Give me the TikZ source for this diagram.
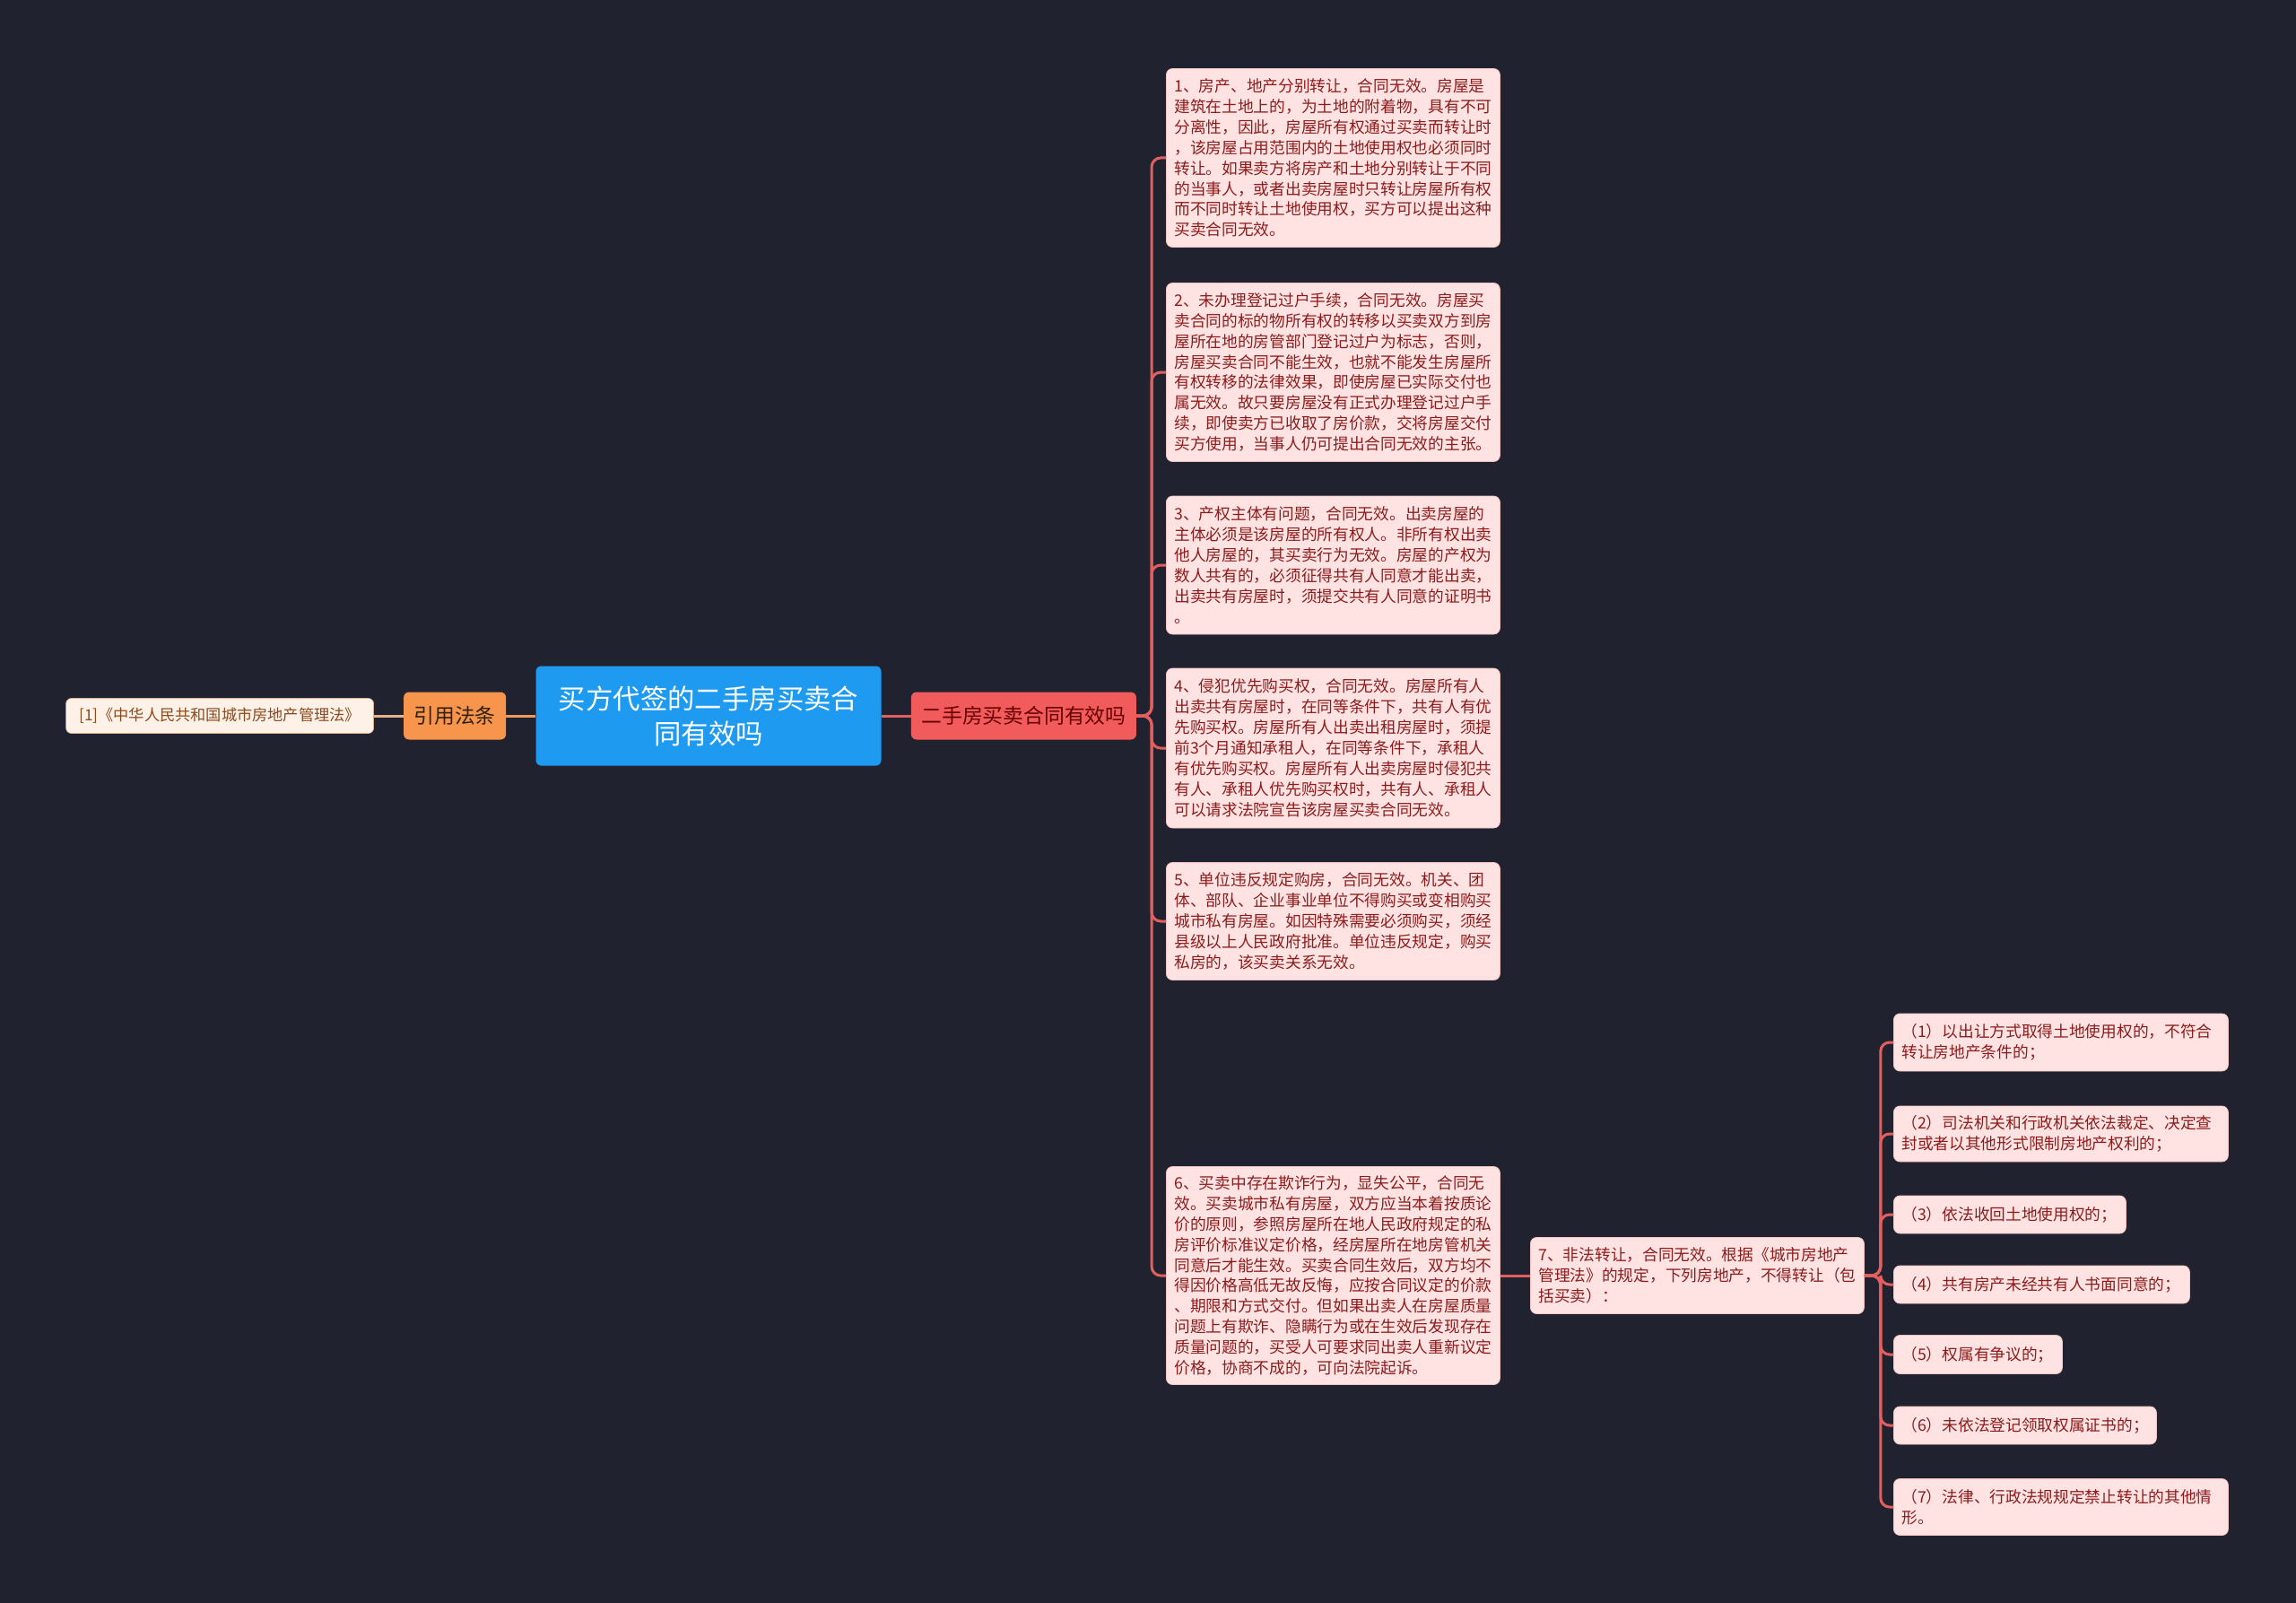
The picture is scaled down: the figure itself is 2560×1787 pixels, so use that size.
\documentclass[tikz,border=0pt]{standalone}
\usepackage{fontspec}
\setmainfont{Noto Sans CJK SC}
\usepackage{xcolor}
\usepackage{tikz}
\usetikzlibrary{positioning}

\definecolor{bgdark}{HTML}{20232F}
\definecolor{rootblue}{HTML}{1E9BF0}
\definecolor{tagorange}{HTML}{F8954D}
\definecolor{tagred}{HTML}{F25B5B}
\definecolor{lawfill}{HTML}{FEF2E8}
\definecolor{lawtext}{HTML}{8B4A1C}
\definecolor{leaffill}{HTML}{FFE3E3}
\definecolor{leafline}{HTML}{F4C4C4}
\definecolor{leaftext}{HTML}{8C1C1C}
\definecolor{redlink}{HTML}{E35F5F}
\definecolor{orangelink}{HTML}{EE9A5C}
\definecolor{tanlink}{HTML}{E3B48A}

\begin{document}
\begin{tikzpicture}[
    x=1pt, y=-1pt,
    topic/.style={rectangle, fill=rootblue, text=white, rounded corners=6pt, minimum width=385pt, minimum height=111pt, align=center, font=\fontsize{30.4pt}{39pt}\selectfont},
    tagbox/.style={rectangle, rounded corners=6pt, minimum height=53pt, inner xsep=4pt, font=\fontsize{22.8pt}{28pt}\selectfont},
    lawbox/.style={rectangle, fill=lawfill, draw=tanlink, line width=0.6pt, text=lawtext, rounded corners=6pt, minimum width=343pt, minimum height=39pt, font=\fontsize{17.2pt}{22pt}\selectfont},
    leaf/.style={rectangle, fill=leaffill, draw=leafline, line width=0.8pt, text=leaftext, rounded corners=7pt, align=left, inner xsep=9pt, inner ysep=3pt, anchor=west, font=\fontsize{17.7pt}{22.9pt}\selectfont},
    link/.style={line width=3pt, rounded corners=10pt}
]

% Background
\fill[bgdark] (0,0) rectangle (2560,1787);
\useasboundingbox (0,0) rectangle (2560,1787);

% Central topic
\node[topic] (root) at (790,798) {买方代签的二手房买卖合\\同有效吗};

% Left side
\node[tagbox, fill=tagorange, text=black!75!brown, minimum width=114pt, left=33pt of root] (cite) {引用法条};
\node[lawbox, left=33pt of cite] (law) {[1]《中华人民共和国城市房地产管理法》};

% Right side
\node[tagbox, fill=tagred, text=black!60!red, minimum width=251pt, right=33pt of root] (valid) {二手房买卖合同有效吗};

% Cases
\node[leaf, text width=354pt, minimum height=199pt] (case1) at (1300,176) {1、房产、地产分别转让，合同无效。房屋是\\建筑在土地上的，为土地的附着物，具有不可\\分离性，因此，房屋所有权通过买卖而转让时\\，该房屋占用范围内的土地使用权也必须同时\\转让。如果卖方将房产和土地分别转让于不同\\的当事人，或者出卖房屋时只转让房屋所有权\\而不同时转让土地使用权，买方可以提出这种\\买卖合同无效。};

\node[leaf, text width=354pt, minimum height=199pt] (case2) at (1300,415) {2、未办理登记过户手续，合同无效。房屋买\\卖合同的标的物所有权的转移以买卖双方到房\\屋所在地的房管部门登记过户为标志，否则，\\房屋买卖合同不能生效，也就不能发生房屋所\\有权转移的法律效果，即使房屋已实际交付也\\属无效。故只要房屋没有正式办理登记过户手\\续，即使卖方已收取了房价款，交将房屋交付\\买方使用，当事人仍可提出合同无效的主张。};

\node[leaf, text width=354pt, minimum height=154pt] (case3) at (1300,630) {3、产权主体有问题，合同无效。出卖房屋的\\主体必须是该房屋的所有权人。非所有权出卖\\他人房屋的，其买卖行为无效。房屋的产权为\\数人共有的，必须征得共有人同意才能出卖，\\出卖共有房屋时，须提交共有人同意的证明书\\。};

\node[leaf, text width=354pt, minimum height=178pt] (case4) at (1300,834) {4、侵犯优先购买权，合同无效。房屋所有人\\出卖共有房屋时，在同等条件下，共有人有优\\先购买权。房屋所有人出卖出租房屋时，须提\\前3个月通知承租人，在同等条件下，承租人\\有优先购买权。房屋所有人出卖房屋时侵犯共\\有人、承租人优先购买权时，共有人、承租人\\可以请求法院宣告该房屋买卖合同无效。};

\node[leaf, text width=354pt, minimum height=131pt] (case5) at (1300,1027) {5、单位违反规定购房，合同无效。机关、团\\体、部队、企业事业单位不得购买或变相购买\\城市私有房屋。如因特殊需要必须购买，须经\\县级以上人民政府批准。单位违反规定，购买\\私房的，该买卖关系无效。};

\node[leaf, text width=354pt, minimum height=243pt] (case6) at (1300,1422) {6、买卖中存在欺诈行为，显失公平，合同无\\效。买卖城市私有房屋，双方应当本着按质论\\价的原则，参照房屋所在地人民政府规定的私\\房评价标准议定价格，经房屋所在地房管机关\\同意后才能生效。买卖合同生效后，双方均不\\得因价格高低无故反悔，应按合同议定的价款\\、期限和方式交付。但如果出卖人在房屋质量\\问题上有欺诈、隐瞒行为或在生效后发现存在\\质量问题的，买受人可要求同出卖人重新议定\\价格，协商不成的，可向法院起诉。};

\node[leaf, text width=354pt, minimum height=85pt] (case7) at (1706,1422) {7、非法转让，合同无效。根据《城市房地产\\管理法》的规定，下列房地产，不得转让（包\\括买卖）：};

% Items under case 7
\node[leaf, text width=355pt, minimum height=64pt] (item1) at (2111,1162) {（1）以出让方式取得土地使用权的，不符合\\转让房地产条件的；};
\node[leaf, text width=355pt, minimum height=62pt] (item2) at (2111,1264) {（2）司法机关和行政机关依法裁定、决定查\\封或者以其他形式限制房地产权利的；};
\node[leaf, text width=241pt, minimum height=42pt] (item3) at (2111,1354) {（3）依法收回土地使用权的；};
\node[leaf, text width=312pt, minimum height=42pt] (item4) at (2111,1432) {（4）共有房产未经共有人书面同意的；};
\node[leaf, text width=170pt, minimum height=43pt] (item5) at (2111,1510) {（5）权属有争议的；};
\node[leaf, text width=275pt, minimum height=42pt] (item6) at (2111,1589) {（6）未依法登记领取权属证书的；};
\node[leaf, text width=355pt, minimum height=63pt] (item7) at (2111,1680) {（7）法律、行政法规规定禁止转让的其他情\\形。};

% Connections
\draw[link, orangelink] (root) -- (cite);
\draw[link, tanlink] (cite) -- (law);
\draw[link, redlink] (root) -- (valid);
\foreach \c in {case1,case2,case3,case4,case5,case6}
    \draw[link, redlink] (valid.east) -- ++(17,0) |- (\c.west);
\draw[link, redlink] (case6.east) -- (case7.west);
\foreach \i in {1,...,7}
    \draw[link, redlink] (case7.east) -- ++(18,0) |- (item\i.west);

\end{tikzpicture}
\end{document}
